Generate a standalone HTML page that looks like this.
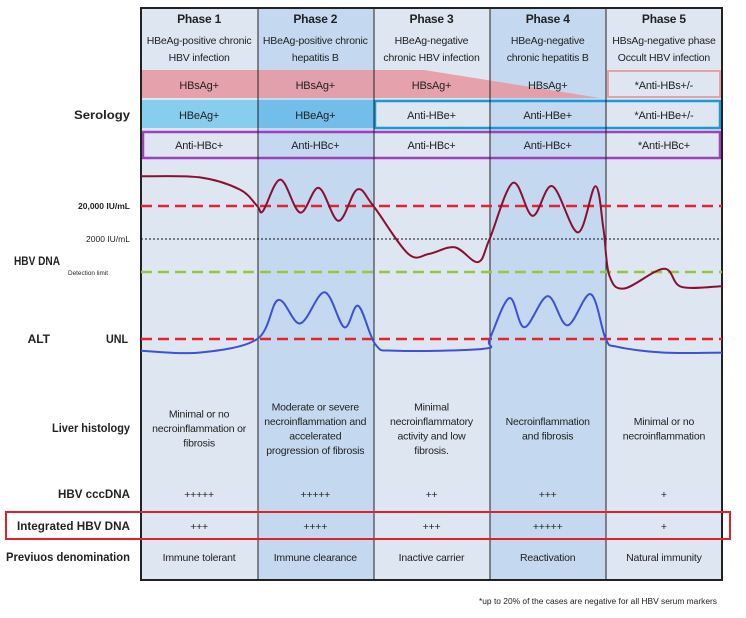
<!DOCTYPE html>
<html><head><meta charset="utf-8"><style>
body{margin:0;background:#fff;font-family:"Liberation Sans",sans-serif}
svg text{font-family:"Liberation Sans",sans-serif}
</style></head><body>
<svg id="chart" width="746" height="613" viewBox="0 0 746 613" xmlns="http://www.w3.org/2000/svg">
<g id="cols">
<rect x="141" y="8" width="117" height="572" fill="#dde6f1"/>
<rect x="258" y="8" width="116" height="572" fill="#c4d8ef"/>
<rect x="374" y="8" width="116" height="572" fill="#dde6f1"/>
<rect x="490" y="8" width="116" height="572" fill="#c4d8ef"/>
<rect x="606" y="8" width="116" height="572" fill="#dde6f1"/>
</g>
<g>
<polygon points="141,70 424,70 600,98 141,98" fill="#e69aa4" opacity="0.9"/>
<rect x="141" y="100" width="233" height="28" fill="#86cdee"/>
<rect x="258" y="100" width="116" height="28" fill="#72bdea"/>
<rect x="608" y="71" width="112" height="26" fill="none" stroke="#e8a0a8" stroke-width="2"/>
<rect x="375" y="101" width="345" height="27" fill="none" stroke="#1a9ad6" stroke-width="2.5"/>
<rect x="143" y="132" width="577" height="26" fill="none" stroke="#a040c0" stroke-width="2.5"/>
</g>
<g stroke="#222" stroke-width="1">
<line x1="258" y1="8" x2="258" y2="580"/><line x1="374" y1="8" x2="374" y2="580"/>
<line x1="490" y1="8" x2="490" y2="580"/><line x1="606" y1="8" x2="606" y2="580"/>
</g>
<rect x="141" y="8" width="581" height="572" fill="none" stroke="#222" stroke-width="2"/>
<g id="refLines"></g>
<g id="series"></g>
<g id="texts" font-size="10.5" fill="#222" text-anchor="middle" letter-spacing="-0.2"></g>
<g text-anchor="end" fill="#222">
<text x="130" y="119" font-size="12" font-weight="bold" textLength="56" lengthAdjust="spacingAndGlyphs">Serology</text>
<text x="60" y="265" font-size="12" font-weight="bold" textLength="46" lengthAdjust="spacingAndGlyphs">HBV DNA</text>
<text x="130" y="209" font-size="8" font-weight="bold" textLength="52" lengthAdjust="spacingAndGlyphs">20,000 IU/mL</text>
<text x="130" y="242" font-size="8" textLength="44" lengthAdjust="spacingAndGlyphs">2000 IU/mL</text>
<text x="108" y="275" font-size="6" textLength="40" lengthAdjust="spacingAndGlyphs">Detection limit</text>
<text x="50" y="343" font-size="12" font-weight="bold">ALT</text>
<text x="128" y="343" font-size="12" font-weight="bold" textLength="22" lengthAdjust="spacingAndGlyphs">UNL</text>
<text x="130" y="432" font-size="12" font-weight="bold" textLength="78" lengthAdjust="spacingAndGlyphs">Liver histology</text>
<text x="130" y="498" font-size="12" font-weight="bold" textLength="72" lengthAdjust="spacingAndGlyphs">HBV cccDNA</text>
<text x="130" y="530" font-size="12" font-weight="bold" textLength="113" lengthAdjust="spacingAndGlyphs">Integrated HBV DNA</text>
<text x="130" y="561" font-size="12" font-weight="bold" textLength="124" lengthAdjust="spacingAndGlyphs">Previuos denomination</text>
<text x="717" y="604" font-size="8" textLength="238" lengthAdjust="spacingAndGlyphs">*up to 20% of the cases are negative for all HBV serum markers</text>
</g>
<rect x="6" y="512" width="724" height="27" fill="none" stroke="#e0202a" stroke-width="2"/>
</svg>
<script>
const phases=["Phase 1","Phase 2","Phase 3","Phase 4","Phase 5"];
const subtitles=[["HBeAg-positive chronic","HBV infection"],["HBeAg-positive chronic","hepatitis B"],["HBeAg-negative","chronic HBV infection"],["HBeAg-negative","chronic hepatitis B"],["HBsAg-negative phase","Occult HBV infection"]];
const hbsRow=["HBsAg+","HBsAg+","HBsAg+","HBsAg+","*Anti-HBs+/-"];
const hbeRow=["HBeAg+","HBeAg+","Anti-HBe+","Anti-HBe+","*Anti-HBe+/-"];
const hbcRow=["Anti-HBc+","Anti-HBc+","Anti-HBc+","Anti-HBc+","*Anti-HBc+"];
const histology=[["Minimal or no","necroinflammation or","fibrosis"],["Moderate or severe","necroinflammation and","accelerated","progression of fibrosis"],["Minimal","necroinflammatory","activity and low","fibrosis."],["Necroinflammation","and fibrosis"],["Minimal or no","necroinflammation"]];
const cccdna=["+++++","+++++","++","+++","+"];
const integrated=["+++","++++","+++","+++++","+"];
const denomination=["Immune tolerant","Immune clearance","Inactive carrier","Reactivation","Natural immunity"];
const dnaT=[0,0.5,0.85,1.0,1.05,1.2,1.37,1.53,1.7,1.86,2.0,2.3,2.48,2.7,2.9,3.0,3.2,3.37,3.54,3.76,3.91,3.98,4.03,4.16,4.5,4.65,5.0];
const dnaV=[5.2,5.17,4.8,4.3,4.15,5.1,4.1,4.85,3.85,4.8,4.3,2.85,2.85,3.05,2.6,3.3,5.0,4.0,4.9,3.5,4.9,3.6,2.2,1.8,2.4,1.85,1.87];
const altT=[0,0.5,1.0,1.18,1.37,1.58,1.75,1.87,2.02,2.2,2.95,3.0,3.17,3.3,3.5,3.67,3.87,4.0,4.1,4.5,5.0];
const altV=[0.3,0.25,0.6,1.6,1.0,1.8,0.9,1.45,0.45,0.3,0.35,0.6,1.65,0.9,1.7,0.95,1.75,0.6,0.4,0.25,0.25];
const refLevels=[4.3,3.3,2.3];
const x0=141,pw=116.2;
const xs=t=>x0+t*pw;
const yDna=v=>206-(v-4.3)*33;
const yAlt=v=>339-(v-0.6)*39;
const NS="http://www.w3.org/2000/svg";
function mk(tag,attrs,parent){const e=document.createElementNS(NS,tag);for(const k in attrs)e.setAttribute(k,attrs[k]);parent.appendChild(e);return e;}
const T=document.getElementById('texts');
function txt(x,y,s,extra){const e=mk('text',Object.assign({x:x,y:y},extra||{}),T);e.textContent=s;return e;}
phases.forEach((p,i)=>{const cx=x0+pw*(i+0.5);
let e=txt(cx,23,p,{'font-weight':'bold','font-size':'12'});


subtitles[i].forEach((s,j)=>{const t=txt(cx,44+j*17,s);

});
[[hbsRow,89],[hbeRow,119],[hbcRow,149]].forEach(([r,y])=>{const t=txt(cx,y,r[i],{'font-size':'11'});

});
const h=histology[i];const y0=432-(h.length-1)*14.5/2;
h.forEach((s,j)=>{const t=txt(cx,y0+j*14.5,s);

});
let c=txt(cx,498,cccdna[i]);


c=txt(cx,530,integrated[i]);


c=txt(cx,561,denomination[i]);


});
const R=document.getElementById('refLines');
const refStyles=[{stroke:'#e8222a','stroke-width':2.5,'stroke-dasharray':'11,6'},{stroke:'#111','stroke-width':1,'stroke-dasharray':'2,2'},{stroke:'#92c84a','stroke-width':2.5,'stroke-dasharray':'11,6'}];
refLevels.forEach((v,i)=>{const l=mk('line',Object.assign({x1:x0,x2:722,y1:yDna(v),y2:yDna(v)},refStyles[i]),R);

});
const u=mk('line',{x1:x0,x2:722,y1:yAlt(0.6),y2:yAlt(0.6),stroke:'#e8222a','stroke-width':2.5,'stroke-dasharray':'11,6'},R);


function smooth(pts){let d='M'+pts[0][0]+','+pts[0][1];for(let i=0;i<pts.length-1;i++){const p0=pts[i-1]||pts[i],p1=pts[i],p2=pts[i+1],p3=pts[i+2]||p2;const c1=[p1[0]+(p2[0]-p0[0])/6,p1[1]+(p2[1]-p0[1])/6],c2=[p2[0]-(p3[0]-p1[0])/6,p2[1]-(p3[1]-p1[1])/6];d+=' C'+c1+' '+c2+' '+p2;}return d;}
const S=document.getElementById('series');
const dna=mk('path',{d:smooth(dnaT.map((t,i)=>[xs(t),yDna(dnaV[i])])),fill:'none',stroke:'#8a1030','stroke-width':2},S);


const alt=mk('path',{d:smooth(altT.map((t,i)=>[xs(t),yAlt(altV[i])])),fill:'none',stroke:'#3c50d8','stroke-width':2},S);


</script>
</body></html>
